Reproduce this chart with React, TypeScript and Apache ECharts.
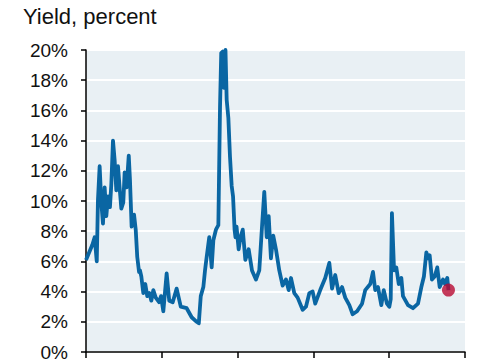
import React, { useEffect, useRef } from "react";
import * as echarts from "echarts";

const years: number[] = [
  2000.0, 2000.42, 2000.57, 2000.71, 2000.79, 2000.9, 2001.01, 2001.12, 2001.23, 2001.34,
  2001.45, 2001.58, 2001.67, 2001.78, 2001.89, 2002.0, 2002.11, 2002.24, 2002.33, 2002.46,
  2002.55, 2002.68, 2002.82, 2002.9, 2003.01, 2003.17, 2003.28, 2003.38, 2003.5, 2003.56,
  2003.65, 2003.78, 2003.91, 2004.04, 2004.18, 2004.31, 2004.44, 2004.6, 2004.82, 2004.95,
  2005.1, 2005.32, 2005.49, 2005.72, 2005.98, 2006.25, 2006.64, 2006.97, 2007.3, 2007.44,
  2007.57, 2007.74, 2007.85, 2007.96, 2008.13, 2008.29, 2008.4, 2008.57, 2008.73, 2008.84,
  2008.92, 2009.02, 2009.06, 2009.1, 2009.2, 2009.28, 2009.39, 2009.5, 2009.61, 2009.7,
  2009.8, 2009.86, 2009.93, 2010.07, 2010.19, 2010.34, 2010.51, 2010.73, 2010.95, 2011.21,
  2011.43, 2011.61, 2011.76, 2011.92, 2012.05, 2012.2, 2012.35, 2012.53, 2012.75, 2012.97,
  2013.19, 2013.37, 2013.52, 2013.74, 2013.96, 2014.29, 2014.51, 2014.73, 2014.95, 2015.12,
  2015.45, 2015.78, 2016.05, 2016.23, 2016.44, 2016.67, 2016.89, 2017.1, 2017.37, 2017.59,
  2017.88, 2018.21, 2018.42, 2018.75, 2018.93, 2019.08, 2019.26, 2019.48, 2019.64, 2019.85,
  2020.01, 2020.1, 2020.18, 2020.32, 2020.47, 2020.63, 2020.8, 2020.91, 2021.24, 2021.57,
  2021.9, 2022.12, 2022.29, 2022.45, 2022.56, 2022.67, 2022.82, 2023.0, 2023.17, 2023.33,
  2023.55, 2023.68, 2023.83, 2023.91,
];

const yields: number[] = [
  6.1, 7.1, 7.6, 6.0, 10.1, 12.3, 9.9, 8.5, 10.9, 9.0,
  10.3, 9.6, 11.1, 14.0, 12.7, 10.7, 12.3, 10.6, 9.5, 9.9,
  11.9, 10.9, 13.0, 11.4, 8.3, 9.1, 8.1, 6.3, 5.3, 5.4,
  5.0, 3.9, 4.5, 3.7, 3.9, 3.4, 4.1, 3.6, 3.3, 3.7,
  2.7, 5.2, 3.4, 3.3, 4.2, 3.0, 2.9, 2.3, 2.0, 1.9,
  3.7, 4.3, 5.4, 6.3, 7.6, 5.6, 7.4, 8.1, 8.4, 16.2,
  19.8, 19.9, 18.7, 17.5, 20.0, 16.7, 15.5, 12.9, 11.0, 10.3,
  8.1, 7.6, 8.3, 6.8, 7.6, 8.1, 6.1, 6.8, 5.4, 4.8,
  5.4, 8.3, 10.6, 7.6, 9.0, 6.2, 7.7, 6.8, 5.4, 4.4,
  4.8, 4.1, 4.9, 3.9, 3.6, 2.8, 3.0, 3.9, 4.0, 3.2,
  4.1, 4.9, 5.9, 4.2, 5.1, 3.9, 4.3, 3.6, 3.1, 2.5,
  2.7, 3.2, 4.1, 4.5, 5.3, 4.1, 4.3, 3.1, 4.1, 3.2,
  3.0, 3.5, 9.2, 5.4, 5.6, 4.5, 4.9, 3.7, 3.1, 2.9,
  3.2, 4.3, 5.0, 6.6, 6.2, 6.4, 4.8, 5.0, 5.6, 4.3,
  4.8, 4.5, 4.9, 4.1,
];

const yTicks: number[] = [0, 2, 4, 6, 8, 10, 12, 14, 16, 18, 20];
const xTicks: number[] = [2000, 2005, 2010, 2015, 2020, 2025];
const subtitle = "Yield, percent";

export default function App() {
  const ref = useRef<HTMLDivElement>(null);
  useEffect(() => {
    if (!ref.current) return;
    const chart = echarts.init(ref.current, null, { renderer: "svg" });
    const lineData = years.map((y, i) => [y, yields[i]]);
    const last = lineData[lineData.length - 1];
    chart.setOption({
      animation: false,
      backgroundColor: "#ffffff",
      textStyle: { fontFamily: "Liberation Sans, Arial, sans-serif" },
      grid: {
        left: 86,
        right: 36,
        top: 50,
        bottom: 10,
        show: true,
        backgroundColor: "#e9f0f4",
        borderWidth: 0,
      },
      graphic: [
        {
          type: "text",
          left: 23,
          top: 5,
          style: {
            text: subtitle,
            fontSize: 22,
            fill: "#111111",
            fontFamily: "Liberation Sans, Arial, sans-serif",
          },
        },
      ],
      xAxis: {
        type: "value",
        min: xTicks[0],
        max: xTicks[xTicks.length - 1],
        interval: 5,
        axisLine: { show: true, lineStyle: { color: "#000000", width: 1.5 } },
        axisTick: { show: true, length: 6, inside: false, lineStyle: { color: "#000000", width: 1.5 } },
        axisLabel: { show: false },
        splitLine: { show: false },
      },
      yAxis: {
        type: "value",
        min: yTicks[0],
        max: yTicks[yTicks.length - 1],
        interval: 2,
        axisLine: { show: true, lineStyle: { color: "#000000", width: 1.5 } },
        axisTick: { show: true, length: 5, inside: false, lineStyle: { color: "#000000", width: 1.5 } },
        axisLabel: {
          show: true,
          margin: 18,
          fontSize: 19,
          color: "#111111",
          fontFamily: "Liberation Sans, Arial, sans-serif",
          formatter: (v: number) => `${v}%`,
        },
        splitLine: { show: true, lineStyle: { color: "#ffffff", width: 2 } },
      },
      series: [
        {
          type: "line",
          data: lineData,
          showSymbol: false,
          symbol: "none",
          lineStyle: { color: "#0a66a3", width: 3.8, join: "round" },
          clip: false,
          z: 2,
        },
        {
          type: "scatter",
          data: [last],
          symbol: "circle",
          symbolSize: 13,
          itemStyle: { color: "#b80a32" },
          z: 3,
        },
      ],
    });
    return () => chart.dispose();
  }, []);
  return (
    <div
      ref={ref}
      style={{ position: "fixed", left: 0, top: 0, width: 501, height: 362 }}
    />
  );
}
